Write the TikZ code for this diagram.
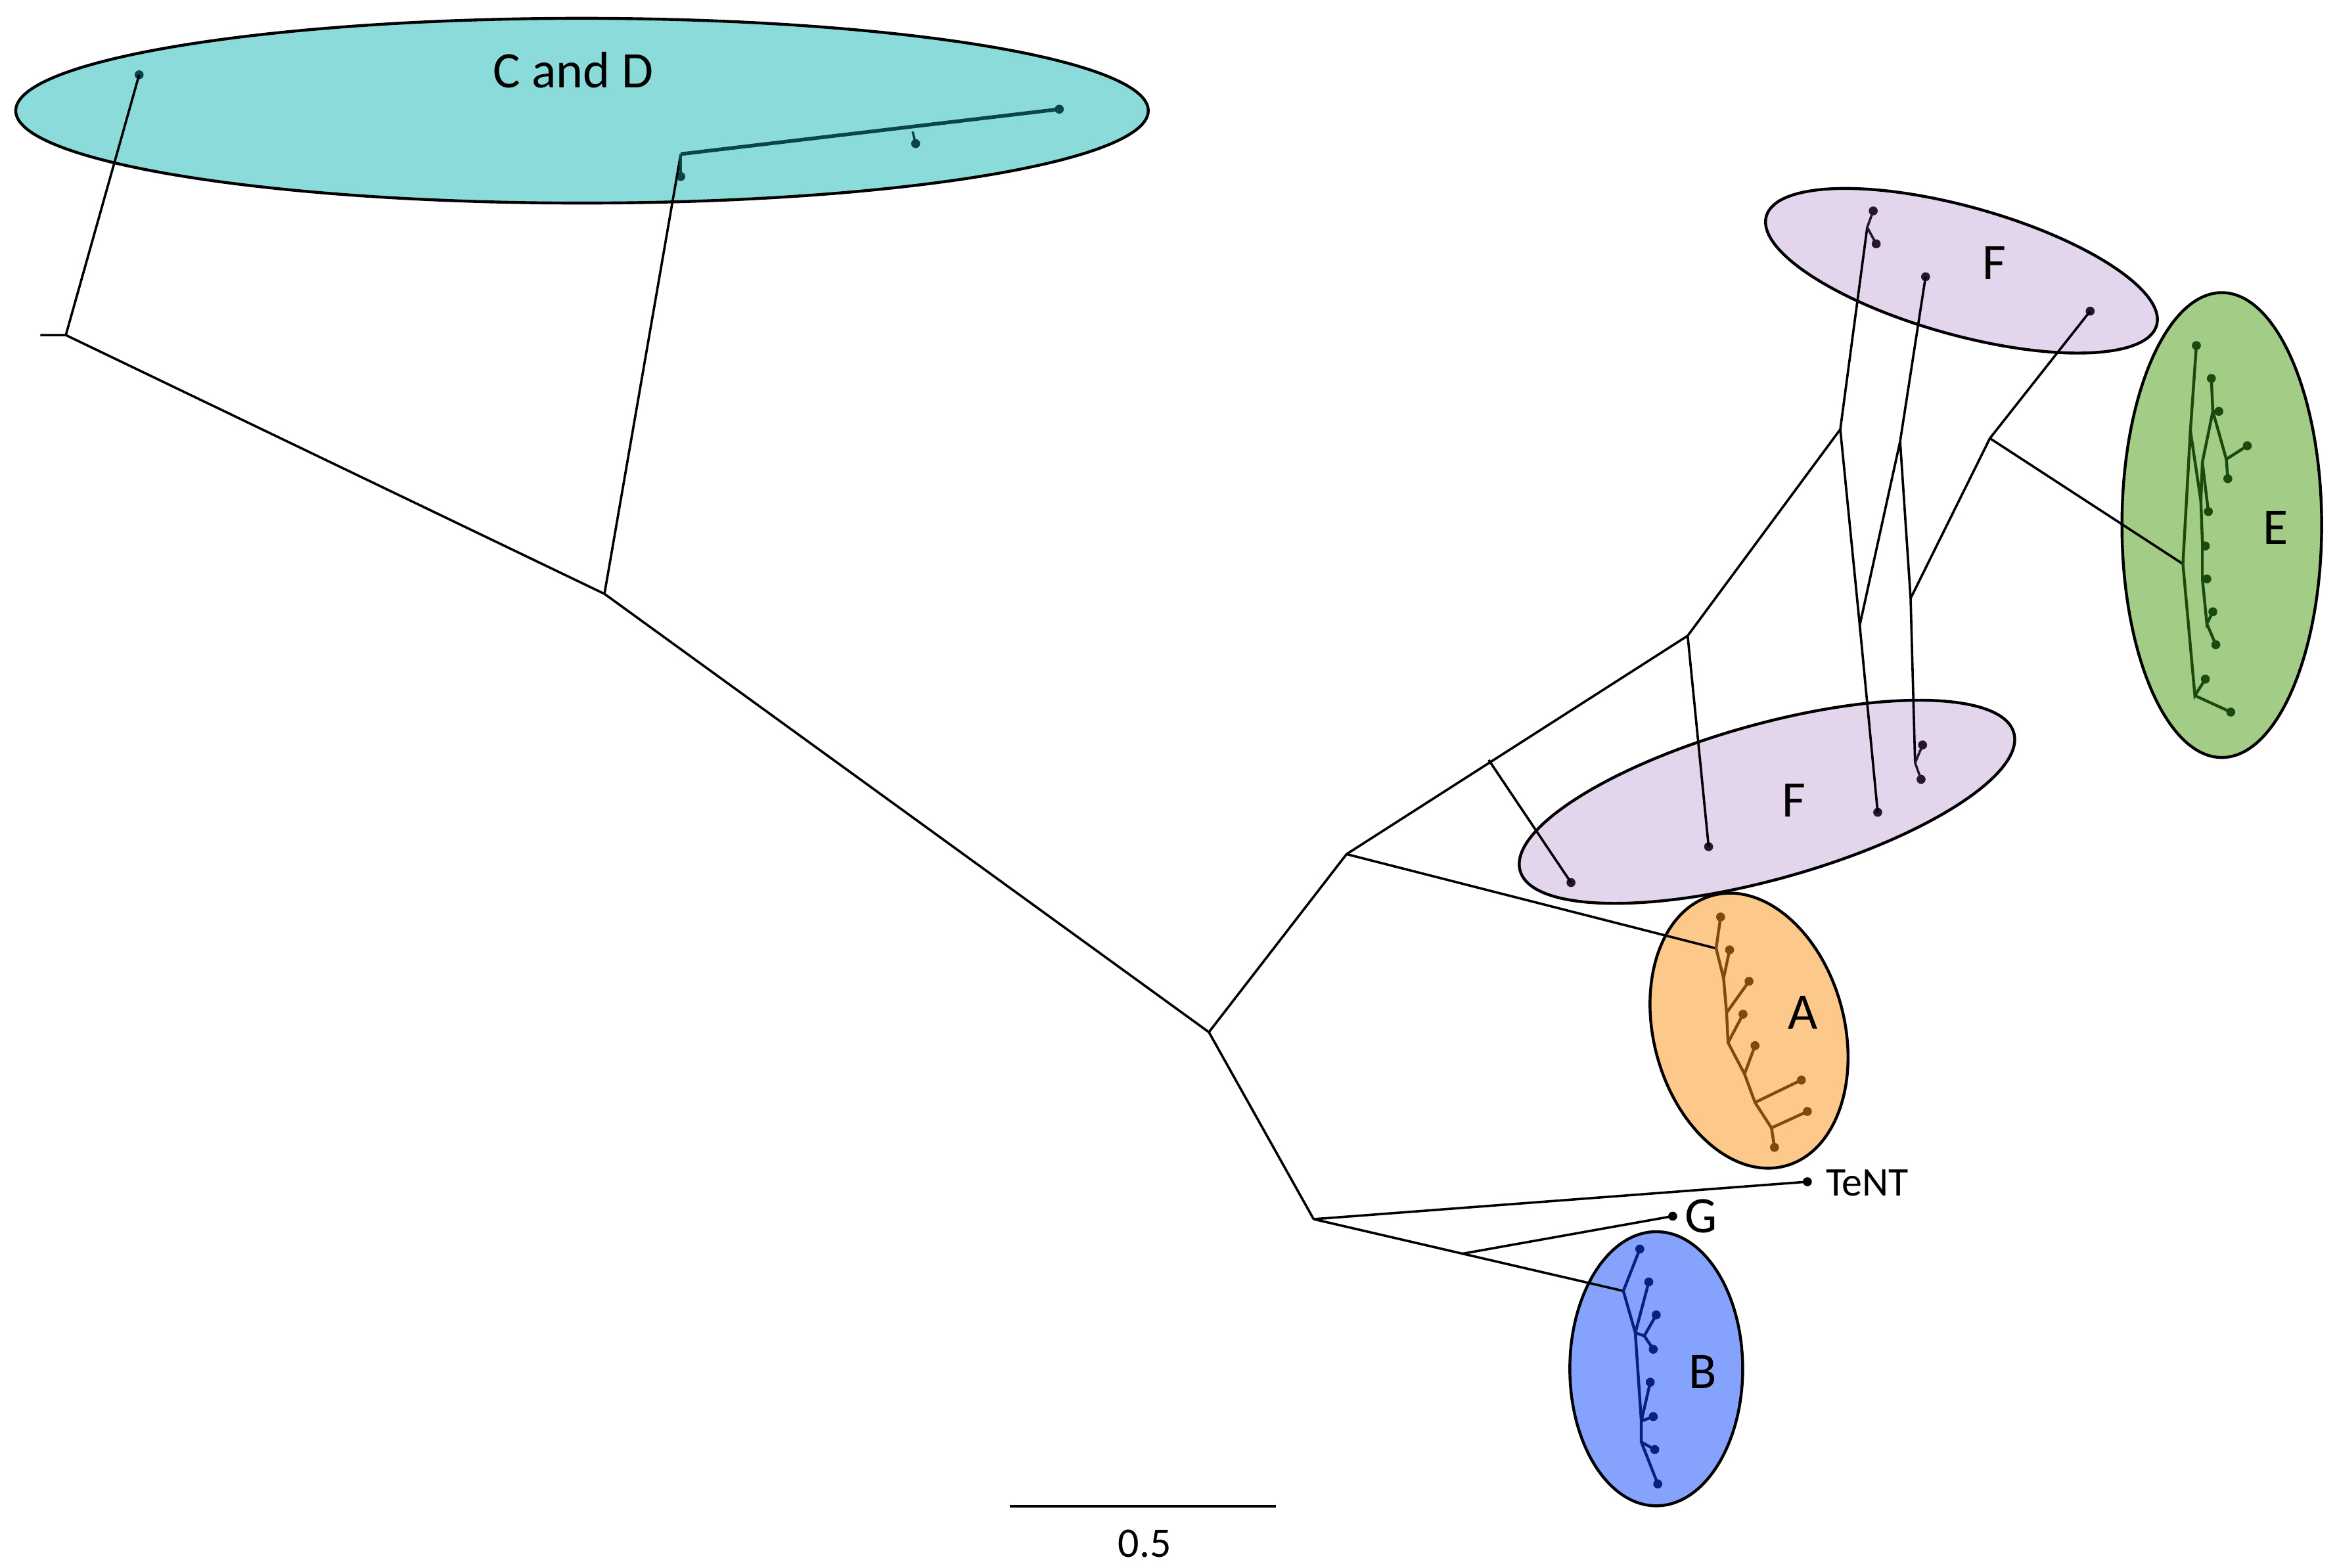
\documentclass[tikz,border=0pt]{standalone}
\usepackage{fontspec}
\setmainfont{Carlito}
\usetikzlibrary{shapes.geometric}
\definecolor{cdfill}{HTML}{8CDBDB}
\definecolor{ffill}{HTML}{E3D5EB}
\definecolor{efill}{HTML}{A3CC87}
\definecolor{afill}{HTML}{FCC98A}
\definecolor{bfill}{HTML}{85A3FC}
\definecolor{cdline}{HTML}{0B4545}
\definecolor{eline}{HTML}{1A4A0D}
\definecolor{aline}{HTML}{7F4A0A}
\definecolor{bline}{HTML}{0A1F80}
\definecolor{fline}{HTML}{2A1530}
\tikzset{
  clade/.style={ellipse,draw=black,line width=1.1pt,inner sep=0pt},
  br/.style={line width=0.9pt,draw=black},
  leaf/.style={circle,fill=#1,inner sep=0pt,minimum size=0.12cm},
  lab/.style={font=\fontsize{19.5}{19.5}\selectfont,inner sep=0pt},
  small/.style={font=\fontsize{15.5}{15.5}\selectfont,inner sep=0pt}
}
\begin{document}
\begin{tikzpicture}[x=0.02cm,y=-0.02cm]
\useasboundingbox (0,0) rectangle (1562,1048);
% clade ellipses (sizes in picture units of 0.5669pt)
\node[clade,fill=cdfill,minimum width=760*0.5669pt,minimum height=124*0.5669pt] (cdE) at (389,74) {};
\node[clade,fill=ffill,minimum width=272*0.5669pt,minimum height=86*0.5669pt,rotate=-15.6] (fTop) at (1311,181) {};
\node[clade,fill=ffill,minimum width=344*0.5669pt,minimum height=104*0.5669pt,rotate=15.6] (fBot) at (1181,536) {};
\node[clade,fill=efill,minimum width=134*0.5669pt,minimum height=312*0.5669pt] (eE) at (1485,351) {};
\node[clade,fill=afill,minimum width=128*0.5669pt,minimum height=188*0.5669pt,rotate=15] (aE) at (1169,689) {};
\node[clade,fill=bfill,minimum width=116*0.5669pt,minimum height=184*0.5669pt] (bE) at (1107,915) {};
% labels
\node[lab] (lcd) at (383,47) {C and D};
\node[lab] (lf1) at (1333,176) {F};
\node[lab] (lf2) at (1199,535) {F};
\node[lab] (le) at (1521,353) {E};
\node[lab] (la) at (1205,677) {A};
\node[lab] (lb) at (1138,917) {B};
\node[lab] (lg) at (1137,813) {G};
\node[small,anchor=west] (lt) at (1220,791) {TeNT};
% backbone coordinates
\coordinate (stub) at (27,224);
\coordinate (root) at (44,224);
\coordinate (n1) at (404,397);
\coordinate (n2) at (808,690);
\coordinate (n3) at (900,571);
\coordinate (n4) at (878,815);
\coordinate (n5) at (1128,425);
\coordinate (n3b) at (995,508);
\coordinate (P) at (1230,287);
\coordinate (Q) at (1243,418);
\coordinate (R) at (1270,295);
\coordinate (S) at (1277,400);
\coordinate (T) at (1330,293);
\coordinate (gB) at (978,838);
% C and D
\coordinate (cd1) at (455,103);
\coordinate (cd2) at (610,88);
\node[leaf=cdline] (cdl1) at (93,50) {};
\node[leaf=cdline] (cdl2) at (455,118) {};
\node[leaf=cdline] (cdl3) at (708,73) {};
\node[leaf=cdline] (cdl4) at (612,96) {};
\draw[br] (stub) -- (root) -- (n1) -- (n2) -- (n3) -- (n5);
\draw[br] (n2) -- (n4);
\draw[br] (root) -- (cdl1.center);
\draw[br] (n1) -- (cd1);
\draw[br,draw=cdline,line width=1.1pt] (cd1) -- (cdl2.center);
\draw[br,draw=cdline,line width=1.4pt] (cd1) -- (cdl3.center);
\draw[br,draw=cdline] (cd2) -- (cdl4.center);
% F
\coordinate (ftf) at (1248,152);
\coordinate (fbf) at (1280,510);
\node[leaf=fline] (f1) at (1252,141) {};
\node[leaf=fline] (f2) at (1254,163) {};
\node[leaf=fline] (f3) at (1287,185) {};
\node[leaf=fline] (f4) at (1397,208) {};
\node[leaf=fline] (f5) at (1255,543) {};
\node[leaf=fline] (f6) at (1285,498) {};
\node[leaf=fline] (f7) at (1284,521) {};
\node[leaf=fline] (f8) at (1142,566) {};
\node[leaf=fline] (f9) at (1050,590) {};
\draw[br] (n5) -- (P) -- (ftf);
\draw[br,draw=fline] (ftf) -- (f1.center) (ftf) -- (f2.center);
\draw[br] (P) -- (Q) -- (R) -- (f3.center);
\draw[br] (Q) -- (f5.center);
\draw[br] (R) -- (S) -- (fbf);
\draw[br,draw=fline] (fbf) -- (f6.center) (fbf) -- (f7.center);
\draw[br] (S) -- (T) -- (f4.center);
\draw[br] (n5) -- (f8.center);
\draw[br] (n3b) -- (f9.center);
% E
\coordinate (e0) at (1459,377);
\coordinate (eA) at (1464,288);
\coordinate (eX) at (1471,335);
\coordinate (eB) at (1472,309);
\coordinate (eC) at (1479,275);
\coordinate (eD) at (1488,307);
\coordinate (eY) at (1472,387);
\coordinate (eZ) at (1475,417);
\coordinate (eW) at (1467,465);
\coordinate (eV) at (1472,362);
\node[leaf=eline] (el1) at (1468,231) {};
\node[leaf=eline] (el2) at (1478,253) {};
\node[leaf=eline] (el3) at (1483,275) {};
\node[leaf=eline] (el4) at (1502,298) {};
\node[leaf=eline] (el5) at (1489,320) {};
\node[leaf=eline] (el6) at (1476,342) {};
\node[leaf=eline] (el7) at (1474,365) {};
\node[leaf=eline] (el8) at (1475,387) {};
\node[leaf=eline] (el9) at (1479,409) {};
\node[leaf=eline] (el10) at (1481,431) {};
\node[leaf=eline] (el11) at (1474,454) {};
\node[leaf=eline] (el12) at (1491,476) {};
\draw[br] (T) -- (e0);
\begin{scope}[every path/.style={br,draw=eline,line width=1.1pt}]
\draw (e0) -- (eA) -- (el1.center);
\draw (eA) -- (eX) -- (eB) -- (eC) -- (el2.center);
\draw (eB) -- (el6.center);
\draw (eC) -- (eD) -- (el4.center) (eD) -- (el5.center);
\draw (eC) -- (el3.center);
\draw (eX) -- (eV) -- (el7.center);
\draw (eV) -- (eY) -- (el8.center);
\draw (eY) -- (eZ) -- (el9.center) (eZ) -- (el10.center);
\draw (e0) -- (eW) -- (el11.center) (eW) -- (el12.center);
\end{scope}
% A
\coordinate (a1) at (1147,634);
\coordinate (a2) at (1152,654);
\coordinate (a3) at (1154,677);
\coordinate (a4) at (1155,697);
\coordinate (a5) at (1166,718);
\coordinate (a6) at (1173,737);
\coordinate (a7) at (1184,754);
\node[leaf=aline] (al0) at (1150,613) {};
\node[leaf=aline] (al1) at (1156,635) {};
\node[leaf=aline] (al2) at (1169,656) {};
\node[leaf=aline] (al3) at (1165,678) {};
\node[leaf=aline] (al4) at (1173,699) {};
\node[leaf=aline] (al5) at (1204,722) {};
\node[leaf=aline] (al6) at (1208,743) {};
\node[leaf=aline] (al7) at (1186,767) {};
\draw[br] (n3) -- (a1);
\begin{scope}[every path/.style={br,draw=aline,line width=1.1pt}]
\draw (a1) -- (al0.center);
\draw (a1) -- (a2) -- (a3) -- (a4) -- (a5) -- (a6) -- (a7) -- (al7.center);
\draw (a2) -- (al1.center) (a3) -- (al2.center) (a4) -- (al3.center)
      (a5) -- (al4.center) (a6) -- (al5.center) (a7) -- (al6.center);
\end{scope}
% G, TeNT
\node[leaf=black] (tent) at (1208,790) {};
\node[leaf=black] (gl) at (1118,813) {};
\draw[br] (n4) -- (tent.center);
\draw[br] (gB) -- (gl.center);
% B
\coordinate (b0) at (1085,863);
\coordinate (b2) at (1093,891);
\coordinate (bf) at (1099,893);
\coordinate (bg) at (1097,950);
\coordinate (b3) at (1097,964);
\node[leaf=bline] (bl1) at (1096,835) {};
\node[leaf=bline] (bl2) at (1102,857) {};
\node[leaf=bline] (bl3) at (1107,879) {};
\node[leaf=bline] (bl4) at (1105,902) {};
\node[leaf=bline] (bl5) at (1103,924) {};
\node[leaf=bline] (bl6) at (1105,947) {};
\node[leaf=bline] (bl7) at (1106,969) {};
\node[leaf=bline] (bl8) at (1108,992) {};
\draw[br] (n4) -- (b0);
\begin{scope}[every path/.style={br,draw=bline,line width=1.1pt}]
\draw (b0) -- (bl1.center);
\draw (b0) -- (b2) -- (bl2.center);
\draw (b2) -- (bg) -- (b3) -- (bl8.center);
\draw (b2) -- (bf) -- (bl3.center) (bf) -- (bl4.center);
\draw (bg) -- (bl5.center) (bg) -- (bl6.center) (b3) -- (bl7.center);
\end{scope}
% scale bar
\coordinate (s1) at (675,1007);
\coordinate (s2) at (853,1007);
\draw[br,line width=1.1pt] (s1) -- (s2);
\node[small,font=\fontsize{16}{16}\selectfont] (sl) at (765,1032) {0.5};
\end{tikzpicture}
\end{document}
